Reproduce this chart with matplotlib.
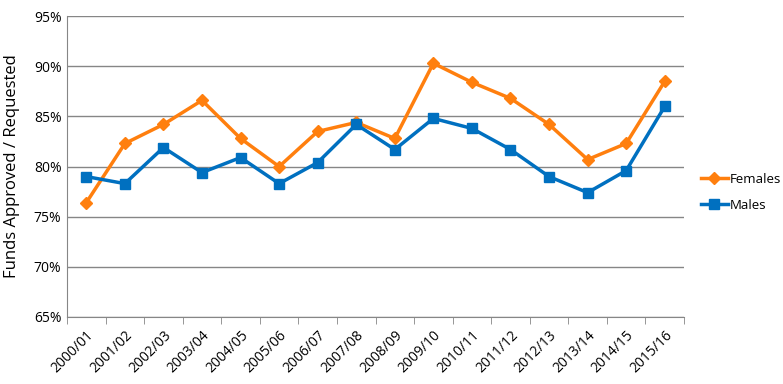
import numpy as np
import matplotlib.pyplot as plt
from matplotlib.ticker import PercentFormatter

years = ["2000/01", "2001/02", "2002/03", "2003/04", "2004/05", "2005/06",
         "2006/07", "2007/08", "2008/09", "2009/10", "2010/11", "2011/12",
         "2012/13", "2013/14", "2014/15", "2015/16"]
females = [76.4, 82.3, 84.2, 86.6, 82.8, 80.0, 83.5, 84.4, 82.8, 90.3,
           88.4, 86.8, 84.2, 80.7, 82.3, 88.5]
males = [79.0, 78.3, 81.9, 79.4, 80.9, 78.3, 80.4, 84.2, 81.7, 84.8,
         83.8, 81.7, 79.0, 77.4, 79.6, 86.0]

plt.rcParams['font.family'] = ['Open Sans', 'DejaVu Sans']

fig = plt.figure(figsize=(7.83, 3.84), dpi=100)
ax = fig.add_axes([0.0856, 0.1745, 0.788, 0.7835])

x = np.arange(len(years))
ax.plot(x, females, color="#FF7F0E", lw=2.5, marker="D", ms=6, label="Females")
ax.plot(x, males, color="#0070C0", lw=2.5, marker="s", ms=7, label="Males")

ax.set_xlim(-0.5, len(years) - 0.5)
ax.set_ylim(65, 95)
ax.set_yticks(np.arange(65, 96, 5))
ax.yaxis.set_major_formatter(PercentFormatter(decimals=0))
ax.grid(axis="y", color="#868686", lw=1)
ax.set_axisbelow(True)

ax.set_xticks(x)
ax.set_xticklabels(years, rotation=45, ha="right", rotation_mode="anchor", fontsize=10)
ax.set_xticks(np.arange(-0.5, len(years)), minor=True)
ax.tick_params(axis="x", which="major", length=0, pad=8)
ax.tick_params(axis="x", which="minor", length=5, color="#868686")
ax.tick_params(axis="y", length=0, labelsize=10, pad=4)

for s in ["top", "right"]:
    ax.spines[s].set_visible(False)
for s in ["left", "bottom"]:
    ax.spines[s].set_color("#868686")

ax.set_ylabel("Funds Approved / Requested", fontsize=12)
ax.yaxis.set_label_coords(-0.076, 0.5)

ax.legend(loc="center left", bbox_to_anchor=(1.028, 0.415), frameon=False,
          fontsize=9.5, handlelength=2.0, handletextpad=0.15, labelspacing=1.0,
          borderaxespad=0, borderpad=0)

fig.savefig("out.png", dpi=100)
